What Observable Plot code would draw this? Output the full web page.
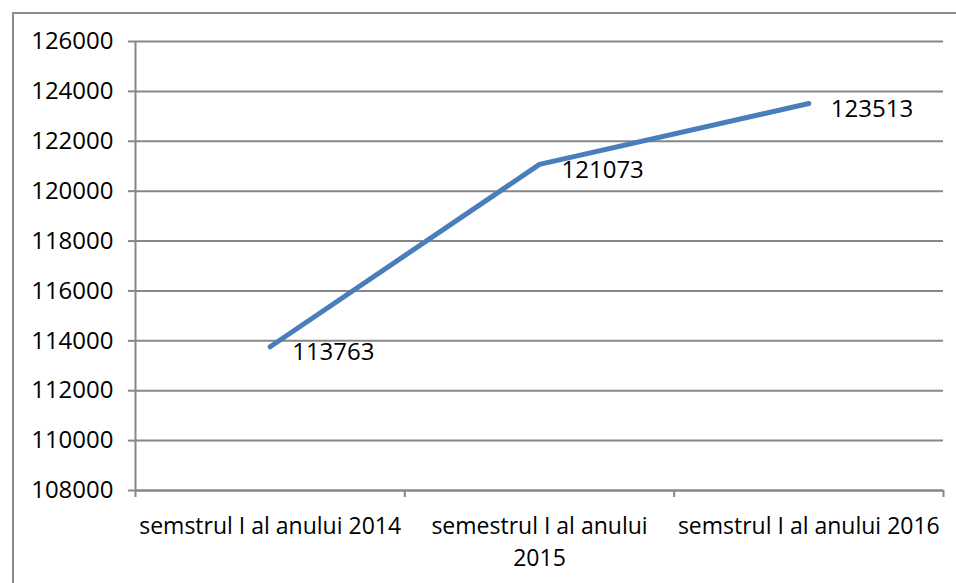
<!DOCTYPE html>
<html>
<head>
<meta charset="utf-8">
<script src="https://cdn.jsdelivr.net/npm/d3@7"></script>
<script src="https://cdn.jsdelivr.net/npm/@observablehq/plot@0.6"></script>
<style>
  html, body { margin: 0; padding: 0; background: #fff; }
  #wrap { position: relative; width: 956px; height: 583px; overflow: hidden; }
  #border { position: absolute; left: 12px; top: 12px; right: -5px; bottom: -5px;
            border-left: 2px solid #8a8a8a; border-top: 2px solid #8a8a8a; pointer-events: none; }
</style>
</head>
<body>
<div id="wrap"><div id="border"></div></div>
<script>
const categories = ["semstrul I al anului 2014", "semestrul I al anului\n2015", "semstrul I al anului 2016"];
const values = [113763, 121073, 123513];
const yTicks = [108000, 110000, 112000, 114000, 116000, 118000, 120000, 122000, 124000, 126000];

const data = categories.map((c, i) => ({pos: i + 0.5, cat: c, value: values[i]}));
const boundaries = d3.range(categories.length + 1);
const centers = data.map(d => d.pos);

const gray = "#878787";
const chart = Plot.plot({
  width: 956,
  height: 583,
  marginLeft: 135,
  marginRight: 13,
  marginTop: 41,
  marginBottom: 93,
  style: {fontFamily: "'Open Sans', sans-serif", fontSize: "24px", color: "#000", background: "transparent"},
  x: {type: "linear", domain: [0, categories.length]},
  y: {domain: [108000, 126000]},
  marks: [
    Plot.gridY(yTicks, {stroke: gray, strokeOpacity: 1, strokeWidth: 2}),
    Plot.axisY(yTicks, {tickSize: 7, tickPadding: 15, stroke: gray, strokeWidth: 2, tickFormat: d => String(d), label: null, fill: "#000", fontSize: 24, letterSpacing: "2.2px"}),
    Plot.ruleX([0], {stroke: gray, strokeWidth: 2}),
    Plot.ruleY([108000], {stroke: gray, strokeWidth: 2}),
    Plot.axisX(boundaries, {tickSize: 7, stroke: gray, strokeWidth: 2, tickFormat: () => "", label: null}),
    Plot.axisX(centers, {tickSize: 0, tickPadding: 20, tickFormat: (d, i) => categories[i], label: null, lineHeight: 1.42, fill: "#000", fontSize: 23, letterSpacing: "0.6px"}),
    Plot.line(data, {x: "pos", y: "value", stroke: "#4A7EBB", strokeWidth: 5, strokeLinecap: "round", strokeLinejoin: "round"}),
    Plot.text(data, {x: "pos", y: "value", text: d => String(d.value), dx: 22, dy: 6, textAnchor: "start", fill: "#000", fontSize: 24, letterSpacing: "2.2px"})
  ]
});
document.getElementById("wrap").prepend(chart);
</script>
</body>
</html>
